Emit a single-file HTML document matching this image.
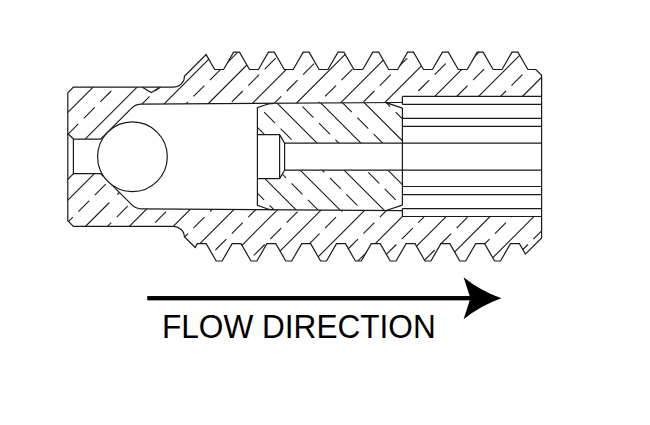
<!DOCTYPE html>
<html><head><meta charset="utf-8"><style>
html,body{margin:0;padding:0;background:#fff;width:650px;height:425px;overflow:hidden}
svg{display:block}
text{font-family:"Liberation Sans",sans-serif}
</style></head><body>
<svg width="650" height="425" viewBox="0 0 650 425">
<defs>
<clipPath id="cb"><path d="M67.8,92.8 L73.4,87.2 L172.8,87.2 A11.2,10.7 0 0 0 184.4,76.3 L206.12,54.58 L214.7,69.5 L223.6,69.5 L233.6,52.1 L239.5,52.1 L249.5,69.5 L258.4,69.5 L268.4,52.1 L274.3,52.1 L284.3,69.5 L293.2,69.5 L303.2,52.1 L309.1,52.1 L319.1,69.5 L328,69.5 L338,52.1 L343.9,52.1 L353.9,69.5 L362.8,69.5 L372.8,52.1 L378.7,52.1 L388.7,69.5 L397.6,69.5 L407.6,52.1 L413.5,52.1 L423.5,69.5 L432.4,69.5 L442.4,52.1 L448.3,52.1 L458.3,69.5 L467.2,69.5 L477.2,52.1 L483.1,52.1 L493.1,69.5 L502,69.5 L512,52.1 L517.9,52.1 L527.9,69.5 L535.8,69.5 L541.6,75.3 L541.6,237.9 L541.6,237.9 L525.42,254.08 L519.4,243.6 L510.5,243.6 L500.5,261 L494.6,261 L484.6,243.6 L475.7,243.6 L465.7,261 L459.8,261 L449.8,243.6 L440.9,243.6 L430.9,261 L425,261 L415,243.6 L406.1,243.6 L396.1,261 L390.2,261 L380.2,243.6 L371.3,243.6 L361.3,261 L355.4,261 L345.4,243.6 L336.5,243.6 L326.5,261 L320.6,261 L310.6,243.6 L301.7,243.6 L291.7,261 L285.8,261 L275.8,243.6 L266.9,243.6 L256.9,261 L251,261 L241,243.6 L232.1,243.6 L222.1,261 L216.2,261 L206.2,243.6 L197.3,243.6 L195.11,247.41 L184.4,236.7 A11.2,10.7 0 0 0 172.8,226.3 L73.4,226.3 L67.8,220.7 Z"/></clipPath>
<clipPath id="ci"><path d="M257.4,107.6 L265,105 Q268,103.31 273.5,103.28 L386,102.6 L402.4,108.1 L402.4,143.1 L284.6,143.1 L279.6,134.6 L257.4,134.6 Z M257.4,178.6 L279.6,178.6 L284.6,170.2 L402.4,170.2 L402.4,205.2 L386,210.49 L273.5,209.76 Q268,209.73 265,208 L257.4,205.4 Z"/></clipPath>
</defs>
<g stroke="#1a1a1a" stroke-width="1.1" fill="none">
<g clip-path="url(#cb)"><path d="M-282.66,375.24L375.24,-282.66M-260.73,397.17L397.17,-260.73M-238.8,419.1L419.1,-238.8M-216.87,441.03L441.03,-216.87M-194.94,462.96L462.96,-194.94M-173.01,484.89L484.89,-173.01M-151.08,506.82L506.82,-151.08M-129.15,528.75L528.75,-129.15M-107.22,550.68L550.68,-107.22M-85.29,572.61L572.61,-85.29M-63.36,594.54L594.54,-63.36M-41.43,616.47L616.47,-41.43M-19.5,638.4L638.4,-19.5M2.43,660.33L660.33,2.43M24.36,682.26L682.26,24.36M46.29,704.19L704.19,46.29M68.22,726.12L726.12,68.22M90.15,748.05L748.05,90.15M112.08,769.98L769.98,112.08M134.01,791.91L791.91,134.01M155.94,813.84L813.84,155.94M177.87,835.77L835.77,177.87M199.8,857.7L857.7,199.8"/><path d="M-272.54,387.05L385.35,-270.84M-250.61,408.98L407.28,-248.91M-228.68,430.91L429.21,-226.98M-206.75,452.84L451.14,-205.05M-184.82,474.77L473.07,-183.12M-162.89,496.7L495,-161.19M-140.96,518.63L516.93,-139.26M-119.03,540.56L538.86,-117.33M-97.1,562.49L560.79,-95.4M-75.17,584.42L582.72,-73.47M-53.24,606.36L604.65,-51.54M-31.31,628.28L626.58,-29.61M-9.38,650.21L648.51,-7.68M12.55,672.14L670.44,14.25M34.48,694.07L692.37,36.18M56.41,716L714.3,58.11M78.34,737.93L736.23,80.04M100.27,759.87L758.16,101.97M122.2,781.79L780.09,123.9M144.13,803.72L802.02,145.83M166.06,825.65L823.95,167.76M187.99,847.59L845.88,189.69M209.92,869.51L867.81,211.62" stroke-dasharray="15.507 7.753"/></g>
<path d="M67.8,133.5 L73.4,139.1 L100.6,139.1 L131.4,108.3 Q135.6,104.1 141.6,104.1 L402.4,102.5 L402.4,96.4 L541.6,96.4 L541.6,216.5 L402.4,216.5 L402.4,210.6 L141.8,208.9 Q135.8,208.9 131.6,204.7 L100.6,173.7 L73.4,173.7 L67.8,179.3 Z" fill="#fff" stroke="none"/>
<path d="M109.3,202.6 L117.3,194.6" stroke="#fff" stroke-width="3.2"/>
<g clip-path="url(#ci)"><path d="M21.17,-21.17L679.07,636.73M43.1,-43.1L701,614.8M65.03,-65.03L722.93,592.87M86.96,-86.96L744.86,570.94M108.89,-108.89L766.79,549.01M130.82,-130.82L788.72,527.08M152.75,-152.75L810.65,505.15M174.68,-174.68L832.58,483.22M196.61,-196.61L854.51,461.29"/><path d="M17.4,-3L675.3,654.89M39.34,-24.93L697.23,632.96M61.27,-46.86L719.16,611.03M83.2,-68.8L741.09,589.1M105.12,-90.72L763.02,567.17M127.05,-112.65L784.95,545.24M148.98,-134.59L806.88,523.31M170.91,-156.52L828.81,501.38M192.84,-178.44L850.74,479.45M214.77,-200.38L872.67,457.52" stroke-dasharray="15.507 7.753"/></g>
</g>
<g stroke="#1a1a1a" stroke-width="1.2" fill="none" stroke-linejoin="miter">
<path d="M67.8,92.8 L73.4,87.2 L172.8,87.2 A11.2,10.7 0 0 0 184.4,76.3 L206.12,54.58 L214.7,69.5 L223.6,69.5 L233.6,52.1 L239.5,52.1 L249.5,69.5 L258.4,69.5 L268.4,52.1 L274.3,52.1 L284.3,69.5 L293.2,69.5 L303.2,52.1 L309.1,52.1 L319.1,69.5 L328,69.5 L338,52.1 L343.9,52.1 L353.9,69.5 L362.8,69.5 L372.8,52.1 L378.7,52.1 L388.7,69.5 L397.6,69.5 L407.6,52.1 L413.5,52.1 L423.5,69.5 L432.4,69.5 L442.4,52.1 L448.3,52.1 L458.3,69.5 L467.2,69.5 L477.2,52.1 L483.1,52.1 L493.1,69.5 L502,69.5 L512,52.1 L517.9,52.1 L527.9,69.5 L535.8,69.5 L541.6,75.3 L541.6,237.9 L541.6,237.9 L525.42,254.08 L519.4,243.6 L510.5,243.6 L500.5,261 L494.6,261 L484.6,243.6 L475.7,243.6 L465.7,261 L459.8,261 L449.8,243.6 L440.9,243.6 L430.9,261 L425,261 L415,243.6 L406.1,243.6 L396.1,261 L390.2,261 L380.2,243.6 L371.3,243.6 L361.3,261 L355.4,261 L345.4,243.6 L336.5,243.6 L326.5,261 L320.6,261 L310.6,243.6 L301.7,243.6 L291.7,261 L285.8,261 L275.8,243.6 L266.9,243.6 L256.9,261 L251,261 L241,243.6 L232.1,243.6 L222.1,261 L216.2,261 L206.2,243.6 L197.3,243.6 L195.11,247.41 L184.4,236.7 A11.2,10.7 0 0 0 172.8,226.3 L73.4,226.3 L67.8,220.7 Z"/>
<!-- notch -->
<path d="M142.3,87.2 L151.2,92.5 L160.6,87.2"/>
<!-- inlet hole -->
<path d="M67.8,133.5 L73.4,139.1 L73.4,173.7 L67.8,179.3"/>
<path d="M73.4,139.1 L100.6,139.1 L131.4,108.3 Q135.6,104.1 141.6,104.1 L402.4,102.5 M402.4,104.4 L541.6,104.4"/>
<path d="M73.4,173.7 L100.6,173.7 L131.6,204.7 Q135.8,208.9 141.8,208.9 L402.4,210.6 M402.4,208.6 L541.6,208.6"/>
<!-- right box -->
<path d="M402.4,96.4 L402.4,104.4 M402.4,108.1 L402.4,205.1 M402.4,208.6 L402.4,216.5"/>
<path d="M402.4,96.4 L541.6,96.4 M402.4,216.5 L541.6,216.5"/>
<path d="M402.4,118.4 L541.6,118.4 M402.4,126.4 L541.6,126.4 M402.4,186.5 L541.6,186.5 M402.4,194.6 L541.6,194.6"/>
<path d="M284.6,143.1 L541.6,143.1 M284.6,170.2 L541.6,170.2"/>
<!-- insert -->
<path d="M386,102.6 L402.4,108.1 M402.4,205.1 L386,210.49"/>
<path d="M273.5,103.28 Q268,103.31 265,105 L257.4,107.6 L257.4,205.4 L265,208 Q268,209.73 273.5,209.76"/>
<path d="M257.4,134.6 L279.6,134.6 L279.6,178.6 L257.4,178.6 M279.6,134.6 L284.6,143.1 L284.6,170.2 L279.6,178.6"/>
<!-- ball -->
<circle cx="132.45" cy="156.7" r="34.85" fill="#fff"/>
</g>
<!-- arrow -->
<rect x="147.2" y="296.05" width="325" height="4.3" fill="#000"/>
<path d="M463.6,277.2 L470.4,298.2 L463.6,319.2 Q480.5,305.5 501.4,298.2 Q480.5,290.9 463.6,277.2 Z" fill="#000"/>
<text x="162" y="337.2" font-family="Liberation Sans" font-size="31.6" fill="#000" transform="matrix(1,0,0,1.028,0,-8.82)">FLOW DIRECTION</text>
</svg>
</body></html>
